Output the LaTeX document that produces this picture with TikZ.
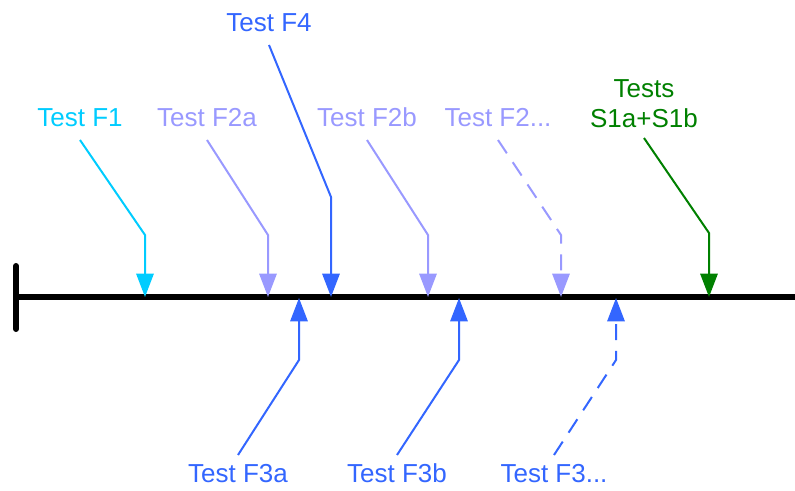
\documentclass[tikz,border=0pt]{standalone}
\usepackage{fontspec}
\setmainfont{Liberation Sans}
\usepackage{tikz}
\usetikzlibrary{arrows.meta}

\definecolor{fcyan}{HTML}{00CCFF}
\definecolor{flav}{HTML}{9999FF}
\definecolor{fblue}{HTML}{3366FF}
\definecolor{sgreen}{HTML}{008000}

\begin{document}
\begin{tikzpicture}[
  x=0.75pt, y=-0.75pt,
  font=\fontsize{19.5}{22.5}\selectfont,
  arr/.style={-{Triangle[length=17.5pt, width=13pt]}, line width=1.5pt},
  dashy/.style={dash pattern=on 12pt off 8pt},
  lbltop/.style={inner xsep=0pt, inner ysep=10pt, anchor=south},
  lblbot/.style={inner xsep=0pt, inner ysep=6.5pt, anchor=north}]
\useasboundingbox (0,0) rectangle (795,491);
% time axis with start tick
\coordinate (t0) at (16,297);
\coordinate (tend) at (795,297);
\draw[line width=4pt] (t0) -- (tend);
\draw[line width=4.5pt, line cap=round] (16,266) -- (16,329);
% F-tests above the axis
\node[lbltop, fcyan] (f1) at (80,140) {Test F1};
\node[lbltop, flav] (f2a) at (207,140) {Test F2a};
\node[lbltop, fblue] (f4) at (269,45) {Test F4};
\node[lbltop, flav] (f2b) at (367,140) {Test F2b};
\node[lbltop, flav] (f2n) at (498,140) {Test F2...};
\node[lbltop, sgreen, align=center, inner ysep=7.5pt] (s1) at (644,138) {Tests\\S1a+S1b};
\draw[arr, fcyan] (f1.south) -- (145,235) coordinate (f1b) -- (145,297) coordinate (f1e);
\draw[arr, flav] (f2a.south) -- (268,235) coordinate (f2ab) -- (268,297) coordinate (f2ae);
\draw[arr, fblue] (f4.south) -- (331,197) coordinate (f4b) -- (331,297) coordinate (f4e);
\draw[arr, flav] (f2b.south) -- (428,235) coordinate (f2bb) -- (428,297) coordinate (f2be);
\draw[arr, flav, dashy] (f2n.south) -- (561,235) coordinate (f2nb) -- (561,297) coordinate (f2ne);
\draw[arr, sgreen] (s1.south) -- (709,233) coordinate (s1b) -- (709,297) coordinate (s1e);
% F3-tests below the axis
\node[lblbot, fblue] (f3a) at (238,455) {Test F3a};
\node[lblbot, fblue] (f3b) at (397,455) {Test F3b};
\node[lblbot, fblue] (f3n) at (554,455) {Test F3...};
\draw[arr, fblue] (f3a.north) -- (299,360) coordinate (f3ab) -- (299,298) coordinate (f3ae);
\draw[arr, fblue] (f3b.north) -- (459,360) coordinate (f3bb) -- (459,298) coordinate (f3be);
\draw[arr, fblue, dashy] (f3n.north) -- (616,360) coordinate (f3nb) -- (616,298) coordinate (f3ne);
\end{tikzpicture}
\end{document}
